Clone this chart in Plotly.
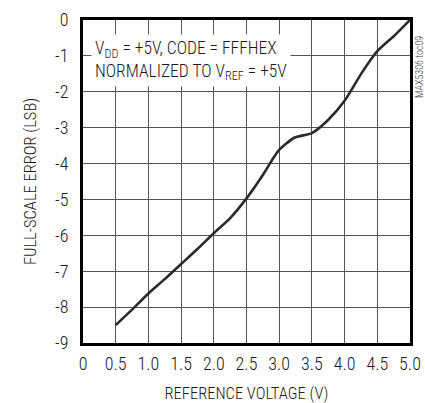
import plotly.graph_objects as go

ref_voltage = [0.5, 0.75, 1.0, 1.25, 1.5, 1.75, 2.0, 2.25, 2.5, 2.75, 2.92, 3.0, 3.23, 3.5, 3.74, 4.0, 4.26, 4.5, 4.77, 5.0]
fs_error = [-8.5, -8.07, -7.62, -7.22, -6.8, -6.38, -5.94, -5.52, -4.97, -4.32, -3.82, -3.62, -3.28, -3.15, -2.8, -2.25, -1.48, -0.87, -0.42, 0.0]

x_ticks = [0, 0.5, 1.0, 1.5, 2.0, 2.5, 3.0, 3.5, 4.0, 4.5, 5.0]
x_tick_labels = ["0", "0.5", "1.0", "1.5", "2.0", "2.5", "3.0", "3.5", "4.0", "4.5", "5.0"]
y_ticks = [0, -1, -2, -3, -4, -5, -6, -7, -8, -9]
y_tick_labels = ["0", "-1", "-2", "-3", "-4", "-5", "-6", "-7", "-8", "-9"]

FONT = "Roboto Condensed, Liberation Sans Narrow, Arial Narrow, sans-serif"

fig = go.Figure()
fig.add_trace(go.Scatter(x=ref_voltage, y=fs_error, mode="lines",
                         line=dict(color="#2a2a2a", width=2.6, shape="spline", smoothing=0.6),
                         showlegend=False))

fig.update_layout(
    width=425, height=403,
    margin=dict(l=83, r=15, t=20, b=60, autoexpand=False),
    paper_bgcolor="white", plot_bgcolor="white",
    font=dict(family=FONT, size=17, color="#1a1a1a", weight=300),
    xaxis=dict(range=[0, 5], tickvals=x_ticks, ticktext=x_tick_labels, automargin=True,
               showgrid=True, gridcolor="#555555", gridwidth=1,
               showline=True, linecolor="black", linewidth=3, mirror=True,
               ticks="", ticklabelstandoff=2, zeroline=False,
               tickfont=dict(size=18, weight=300),
               title=dict(text="REFERENCE VOLTAGE (V)", standoff=20, font=dict(size=16.5, weight=300))),
    yaxis=dict(range=[-9, 0], tickvals=y_ticks, ticktext=y_tick_labels, automargin=True,
               showgrid=True, gridcolor="#555555", gridwidth=1,
               showline=True, linecolor="black", linewidth=3, mirror=True,
               ticks="", ticklabelstandoff=8, zeroline=False,
               tickfont=dict(size=18, weight=300),
               title=dict(text="FULL-SCALE ERROR (LSB)", standoff=15, font=dict(size=16.5, weight=300))),
    annotations=[
        dict(text="V<sub>DD</sub> = +5V, CODE = FFFHEX<br>NORMALIZED TO V<sub>REF</sub> = +5V",
             xref="paper", yref="paper", x=0.025, y=0.957, xanchor="left", yanchor="top",
             align="left", showarrow=False, bgcolor="white", borderpad=3,
             font=dict(size=17.5, family=FONT, weight=300)),
        dict(text="MAX5306 toc09", xref="paper", yref="paper", x=1.008, y=0.855,
             xanchor="left", yanchor="middle", textangle=-90, showarrow=False,
             font=dict(size=10, color="#444", family=FONT, weight=300)),
    ],
)

fig.write_html("out.html", config={"displayModeBar": False},
               post_script="document.body.style.margin='0';document.body.style.overflow='hidden';")
